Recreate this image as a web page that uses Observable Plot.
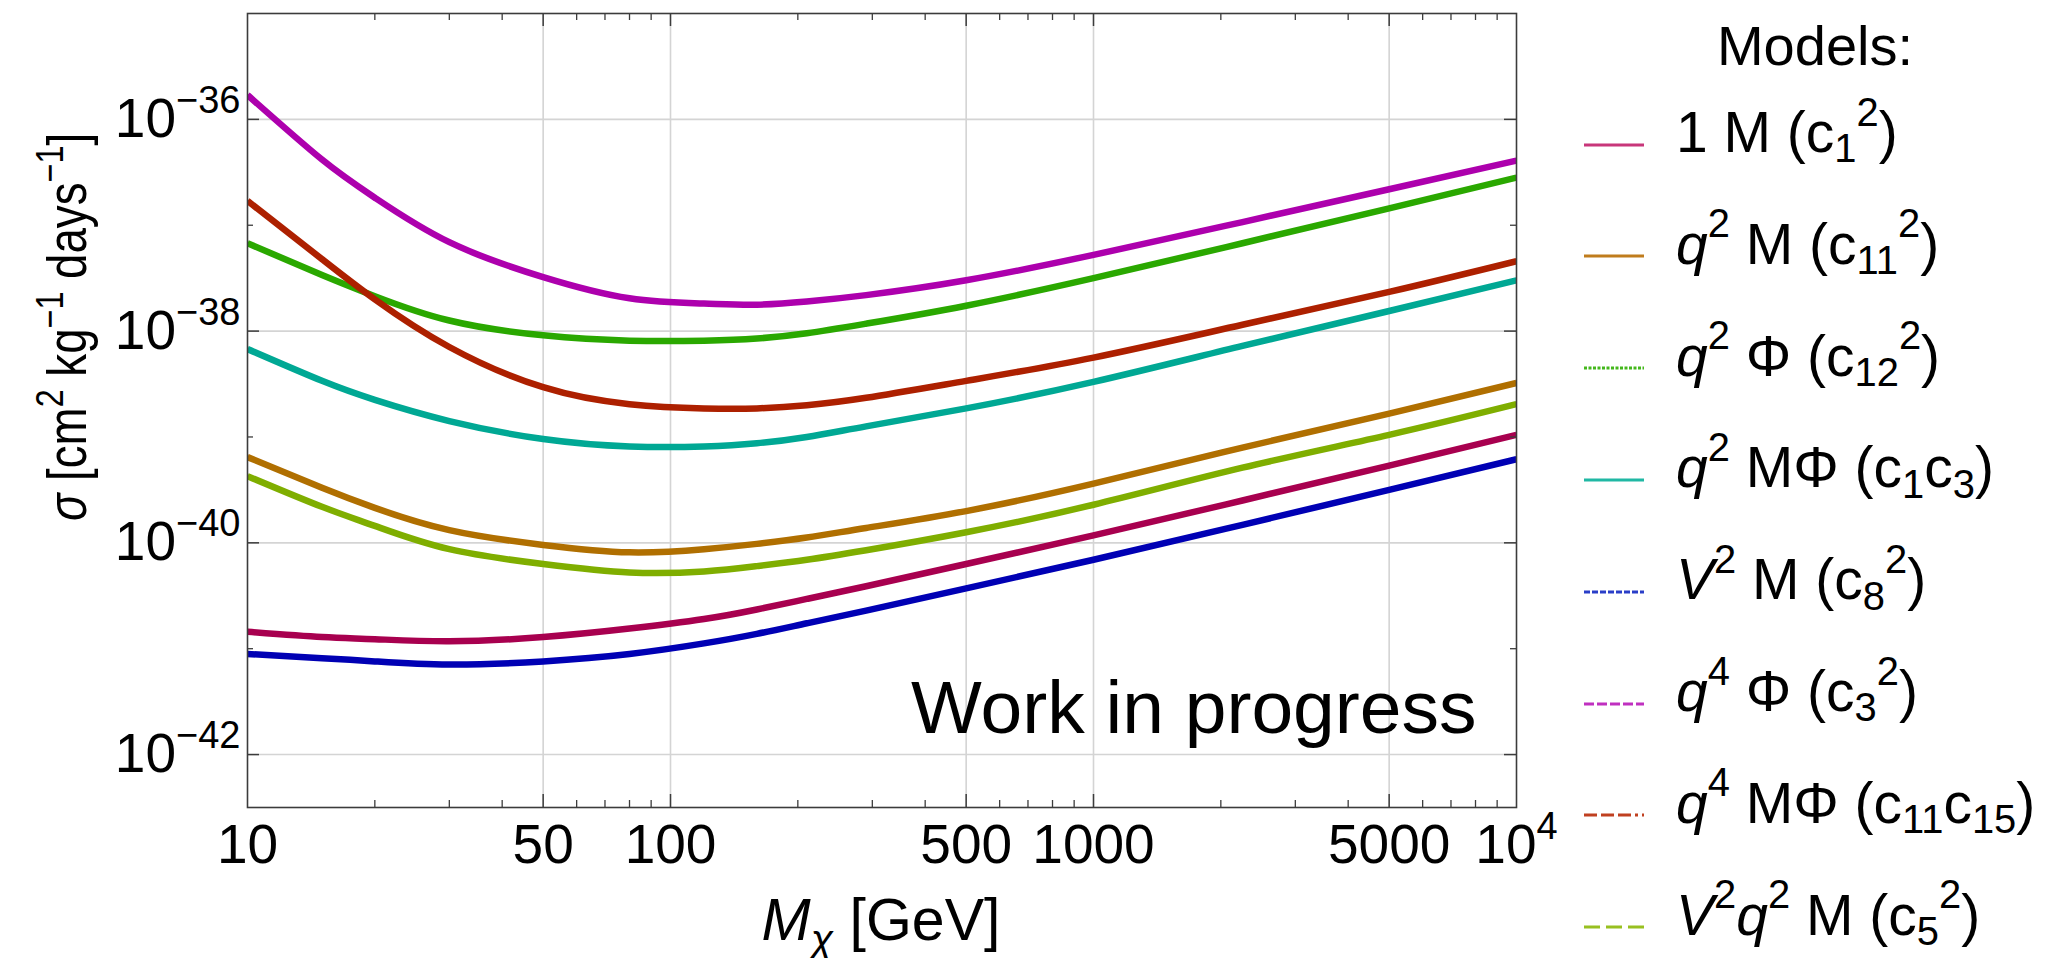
<!DOCTYPE html>
<html>
<head>
<meta charset="utf-8">
<script src="https://cdn.jsdelivr.net/npm/d3@7"></script>
<script src="https://cdn.jsdelivr.net/npm/@observablehq/plot@0.6"></script>
<style>
  html, body { margin: 0; padding: 0; background: #fff; overflow: hidden; }
  #wrap { position: relative; width: 2055px; height: 958px; font-family: "Liberation Sans", Arial, sans-serif; }
  #legend { position: absolute; left: 0; top: 0; width: 2055px; height: 958px; pointer-events: none; }
  .lg-title { position: absolute; font-size: 56px; line-height: 62px; color: #000; white-space: nowrap; }
  .lg-text { position: absolute; font-size: 57px; line-height: 62px; color: #000; white-space: nowrap; }
  .lg-text sup, .lg-text sub { font-size: 0.7em; vertical-align: baseline; position: relative; line-height: 0; }
  .lg-text sup { top: -0.66em; }
  .lg-text sub { top: 0.26em; }
  .lg-text i { font-style: italic; }
</style>
</head>
<body>
<div id="wrap"></div>
<script>
// ---------- data (log10 of sigma) ----------
const mass = [10, 15, 20, 30, 50, 80, 120, 160, 210, 290, 500, 1000, 2250, 5000, 10000];

const log10Sigma_1M      = [-40.84, -40.89, -40.91, -40.93, -40.89, -40.81, -40.72, -40.63, -40.53, -40.41, -40.20, -39.93, -39.60, -39.27, -38.98];
const log10Sigma_q2M     = [-39.19, -39.48, -39.67, -39.88, -40.02, -40.09, -40.06, -40.01, -39.95, -39.86, -39.70, -39.44, -39.10, -38.78, -38.49];
const log10Sigma_q2Phi   = [-37.17, -37.47, -37.67, -37.90, -38.04, -38.09, -38.09, -38.07, -38.02, -37.93, -37.76, -37.50, -37.17, -36.84, -36.55];
const log10Sigma_q2MPhi  = [-38.17, -38.47, -38.65, -38.85, -39.02, -39.09, -39.09, -39.06, -39.00, -38.90, -38.73, -38.48, -38.14, -37.81, -37.52];
const log10Sigma_V2M     = [-41.05, -41.09, -41.12, -41.15, -41.12, -41.05, -40.95, -40.86, -40.76, -40.64, -40.43, -40.16, -39.83, -39.50, -39.21];
const log10Sigma_q4Phi   = [-35.77, -36.38, -36.74, -37.16, -37.49, -37.69, -37.74, -37.75, -37.72, -37.66, -37.52, -37.28, -36.97, -36.66, -36.39];
const log10Sigma_q4MPhi  = [-36.77, -37.32, -37.70, -38.15, -38.53, -38.69, -38.73, -38.73, -38.70, -38.63, -38.47, -38.25, -37.94, -37.63, -37.34];
const log10Sigma_V2q2M   = [-39.37, -39.66, -39.84, -40.06, -40.20, -40.28, -40.27, -40.22, -40.16, -40.07, -39.90, -39.64, -39.29, -38.98, -38.69];

const modelKeys = ["1M", "q2M", "q2Phi", "q2MPhi", "V2M", "q4Phi", "q4MPhi", "V2q2M"];
const modelSeries = [log10Sigma_1M, log10Sigma_q2M, log10Sigma_q2Phi, log10Sigma_q2MPhi, log10Sigma_V2M, log10Sigma_q4Phi, log10Sigma_q4MPhi, log10Sigma_V2q2M];
const modelColors = ["#a8004f", "#b06f00", "#2aa800", "#00a894", "#0000b4", "#ad00ad", "#ad2000", "#7fae00"];
const legendColors = ["#c8367a", "#c07c1c", "#44b81c", "#20b8a4", "#2a3ec8", "#c030c0", "#c04020", "#98c020"];
const legendDashes = ["none", "none", "3,1.5", "none", "6,2", "10,3", "13,4,13,4,13,4,3,4", "16,6"];
const modelLabels = [
  "1 M (c<sub>1</sub><sup>2</sup>)",
  "<i>q</i><sup>2</sup> M (c<sub>11</sub><sup>2</sup>)",
  "<i>q</i><sup>2</sup> Φ (c<sub>12</sub><sup>2</sup>)",
  "<i>q</i><sup>2</sup> MΦ (c<sub>1</sub>c<sub>3</sub>)",
  "<i>V</i><sup>2</sup> M (c<sub>8</sub><sup>2</sup>)",
  "<i>q</i><sup>4</sup> Φ (c<sub>3</sub><sup>2</sup>)",
  "<i>q</i><sup>4</sup> MΦ (c<sub>11</sub>c<sub>15</sub>)",
  "<i>V</i><sup>2</sup><i>q</i><sup>2</sup> M (c<sub>5</sub><sup>2</sup>)"
];
const legendTitle = "Models:";
const watermark = ["Work in progress"];

const xTicks = [10, 50, 100, 500, 1000, 5000, 10000];
const xTickLabels = ["10", "50", "100", "500", "1000", "5000", "10^4"];
const xMajor = [50, 100, 500, 1000, 5000];
const xMinor = [20, 30, 40, 60, 70, 80, 90, 200, 300, 400, 600, 700, 800, 900, 2000, 3000, 4000, 6000, 7000, 8000, 9000];
const yTicks = [1e-36, 1e-38, 1e-40, 1e-42];
const yTickLabels = ["10^−36", "10^−38", "10^−40", "10^−42"];
const yMinor = [1e-37, 1e-39, 1e-41];

// ---------- layout ----------
const W = 2055, H = 958;
const mL = 247, mR = W - 1516, mT = 13, mB = H - 807;
const innerW = W - mL - mR, innerH = H - mT - mB;
const FONT = "'Liberation Sans', Arial, Helvetica, sans-serif";

const rows = [];
modelKeys.forEach((k, i) => mass.forEach((m, j) => rows.push({model: k, mass: m, sigma: Math.pow(10, modelSeries[i][j])})));

const tickColor = "#3c3c3c";
const gridColor = "#d4d4d4";

const plot = Plot.plot({
  width: W, height: H,
  marginLeft: mL, marginRight: mR, marginTop: mT, marginBottom: mB,
  style: {fontFamily: FONT, background: "white", color: "black", overflow: "visible"},
  x: {type: "log", domain: [10, 1e4], axis: null},
  y: {type: "log", domain: [Math.pow(10, -42.5), 1e-35], axis: null},
  marks: [
    Plot.ruleX(xMajor, {x: d => d, stroke: gridColor, strokeWidth: 1.6}),
    Plot.ruleY(yTicks, {y: d => d, stroke: gridColor, strokeWidth: 1.6}),
    ...modelKeys.map((k, i) => Plot.line(rows.filter(r => r.model === k), {
      x: "mass", y: "sigma", stroke: modelColors[i], strokeWidth: 6.5,
      curve: "natural", strokeLinecap: "butt", clip: true
    })),
    // inward ticks: bottom & top (x), left & right (y)
    Plot.tickX(xMajor, {x: d => d, insetTop: innerH - 13, stroke: tickColor, strokeWidth: 1.5}),
    Plot.tickX(xMajor, {x: d => d, insetBottom: innerH - 13, stroke: tickColor, strokeWidth: 1.5}),
    Plot.tickX(xMinor, {x: d => d, insetTop: innerH - 7, stroke: tickColor, strokeWidth: 1.3}),
    Plot.tickX(xMinor, {x: d => d, insetBottom: innerH - 7, stroke: tickColor, strokeWidth: 1.3}),
    Plot.tickY(yTicks, {y: d => d, insetRight: innerW - 12, stroke: tickColor, strokeWidth: 1.5}),
    Plot.tickY(yTicks, {y: d => d, insetLeft: innerW - 12, stroke: tickColor, strokeWidth: 1.5}),
    Plot.tickY(yMinor, {y: d => d, insetRight: innerW - 6, stroke: tickColor, strokeWidth: 1.3}),
    Plot.tickY(yMinor, {y: d => d, insetLeft: innerW - 6, stroke: tickColor, strokeWidth: 1.3}),
    Plot.frame({stroke: tickColor, strokeWidth: 1.6}),
    // x tick labels
    Plot.text(xTicks, {x: d => d, text: (d, i) => xTickLabels[i], frameAnchor: "bottom", lineAnchor: "top",
      dy: 16, fontSize: 55, fill: "black"}),
    // y tick labels
    Plot.text(yTicks, {y: d => d, text: (d, i) => yTickLabels[i], frameAnchor: "left", textAnchor: "end",
      lineAnchor: "middle", dx: -7, fontSize: 55, fill: "black"}),
    Plot.text(watermark, {text: d => d, frameAnchor: "bottom-right", textAnchor: "end", lineAnchor: "bottom",
      dx: -40, dy: -75, fontSize: 75, fill: "black"})
  ]
});

const wrap = document.getElementById("wrap");
wrap.appendChild(plot);

// superscripts in tick labels ("10^4", "10^−36")
const svg = d3.select(plot);
svg.selectAll("text").each(function () {
  const t = this.textContent;
  if (!t || !t.includes("^")) return;
  const [base, sup] = t.split("^");
  const sel = d3.select(this);
  sel.text(null);
  sel.append("tspan").text(base);
  sel.append("tspan").attr("dy", -24).attr("font-size", 38).text(sup);
});

// axis titles
function richText(g, parts) {
  let cur = 0;
  parts.forEach(p => {
    const ts = g.append("tspan").text(p.t);
    const shift = p.shift || 0;
    if (shift !== cur) { ts.attr("dy", shift - cur); cur = shift; }
    if (p.italic) ts.attr("font-style", "italic");
    if (p.size) ts.attr("font-size", p.size);
  });
}
const yTitle = svg.append("text")
  .attr("transform", `translate(86, 327) rotate(-90) scale(0.83, 1)`)
  .attr("text-anchor", "middle").attr("font-size", 55).attr("font-family", FONT).attr("fill", "black");
richText(yTitle, [
  {t: "σ", italic: true}, {t: " [cm"}, {t: "2", shift: -23, size: 39},
  {t: " kg", shift: 0}, {t: "−1", shift: -23, size: 39},
  {t: " days", shift: 0}, {t: "−1", shift: -23, size: 39}, {t: "]", shift: 0}
]);
const xTitle = svg.append("text")
  .attr("x", 881).attr("y", 940)
  .attr("text-anchor", "middle").attr("font-size", 59).attr("font-family", FONT).attr("fill", "black");
richText(xTitle, [
  {t: "M", italic: true}, {t: "χ", italic: true, shift: 13, size: 41}, {t: " [GeV]", shift: 0}
]);

// legend (HTML, outside the plot frame)
const legend = document.createElement("div");
legend.id = "legend";
wrap.appendChild(legend);
const title = document.createElement("div");
title.className = "lg-title";
title.textContent = legendTitle;
legend.appendChild(title);
{
  const w = title.getBoundingClientRect().width;
  title.style.left = (1815 - w / 2) + "px";
  title.style.top = (64 - 49) + "px";
}
const rowBase0 = 152, rowStep = 111.8;
modelLabels.forEach((lab, i) => {
  const baseline = rowBase0 + i * rowStep;
  const sw = document.createElementNS("http://www.w3.org/2000/svg", "svg");
  sw.setAttribute("width", 62); sw.setAttribute("height", 10);
  sw.style.position = "absolute";
  sw.style.left = "1583px";
  sw.style.top = (baseline - 7.5 - 5) + "px";
  const ln = document.createElementNS("http://www.w3.org/2000/svg", "line");
  ln.setAttribute("x1", 1); ln.setAttribute("x2", 61); ln.setAttribute("y1", 5); ln.setAttribute("y2", 5);
  ln.setAttribute("stroke", legendColors[i]); ln.setAttribute("stroke-width", 3);
  if (legendDashes[i] !== "none") ln.setAttribute("stroke-dasharray", legendDashes[i]);
  sw.appendChild(ln);
  legend.appendChild(sw);
  const tx = document.createElement("div");
  tx.className = "lg-text";
  tx.innerHTML = lab;
  tx.style.left = "1676px";
  tx.style.top = (baseline - 51) + "px";
  legend.appendChild(tx);
});
</script>
</body>
</html>
